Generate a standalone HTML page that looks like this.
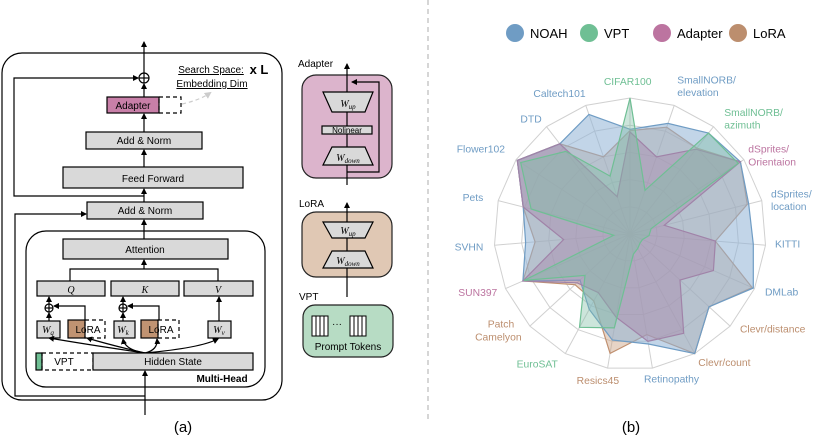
<!DOCTYPE html>
<html><head><meta charset="utf-8"><style>
html,body{margin:0;padding:0;background:#fff;}
svg{display:block;font-family:"Liberation Sans","DejaVu Sans",sans-serif;}
</style></head><body>
<svg id="s" width="822" height="448" viewBox="0 0 822 448" xmlns="http://www.w3.org/2000/svg">
<defs>
<marker id="a" markerWidth="6" markerHeight="6" refX="5" refY="3" orient="auto" markerUnits="userSpaceOnUse"><path d="M0,0 L6,3 L0,6 z" fill="#000"/></marker>
<marker id="g" markerWidth="7" markerHeight="7" refX="5" refY="3.5" orient="auto" markerUnits="userSpaceOnUse"><path d="M0,0 L7,3.5 L0,7 z" fill="#ccc"/></marker>
</defs>
<g stroke="#000" stroke-width="1.2" fill="none">
<rect x="2" y="53" width="280" height="347" rx="20" fill="#fff"/>
<line x1="144" y1="73" x2="144" y2="42" marker-end="url(#a)"/>
<circle cx="144" cy="78" r="5" fill="#fff"/>
<line x1="139" y1="78" x2="149" y2="78"/><line x1="144" y1="73" x2="144" y2="83"/>
<polyline points="144,196 14,196 14,78 138,78" marker-end="url(#a)"/>
<line x1="144" y1="97" x2="144" y2="84" marker-end="url(#a)"/>
<rect x="107" y="97" width="52" height="16" fill="#c87fa8"/>
<rect x="159" y="97" width="22" height="16" stroke-dasharray="4,3"/>
<line x1="144" y1="132" x2="144" y2="114" marker-end="url(#a)"/>
<rect x="86" y="132" width="116" height="17" fill="#d9d9d9"/>
<line x1="144" y1="167" x2="144" y2="150" marker-end="url(#a)"/>
<rect x="63" y="167" width="180" height="21" fill="#d9d9d9"/>
<line x1="144" y1="202" x2="144" y2="189" marker-end="url(#a)"/>
<rect x="87" y="202" width="116" height="17" fill="#d9d9d9"/>
<polyline points="145,396 15,396 15,214 86,214" marker-end="url(#a)"/>
<rect x="26" y="231" width="239" height="156" rx="20" fill="#fff"/>
<line x1="144" y1="239" x2="144" y2="220" marker-end="url(#a)"/>
<rect x="63" y="239" width="165" height="20" fill="#d9d9d9"/>
<polyline points="70,281 70,269 218,269 218,281"/>
<line x1="144" y1="269" x2="144" y2="260" marker-end="url(#a)"/>
<rect x="37" y="281" width="68" height="15" fill="#d9d9d9"/>
<rect x="111" y="281" width="68" height="15" fill="#d9d9d9"/>
<rect x="184" y="281" width="69" height="15" fill="#d9d9d9"/>
<circle cx="49" cy="308" r="4" fill="#fff"/><line x1="45" y1="308" x2="53" y2="308"/><line x1="49" y1="304" x2="49" y2="312"/>
<circle cx="123" cy="308" r="4" fill="#fff"/><line x1="119" y1="308" x2="127" y2="308"/><line x1="123" y1="304" x2="123" y2="312"/>
<line x1="49" y1="321" x2="49" y2="313" marker-end="url(#a)"/>
<line x1="49" y1="304" x2="49" y2="297" marker-end="url(#a)"/>
<line x1="123" y1="321" x2="123" y2="313" marker-end="url(#a)"/>
<line x1="123" y1="304" x2="123" y2="297" marker-end="url(#a)"/>
<polyline points="85,320 85,306 54,306" marker-end="url(#a)"/>
<polyline points="159,320 159,306 128,306" marker-end="url(#a)"/>
<line x1="219" y1="321" x2="219" y2="297" marker-end="url(#a)"/>
<rect x="37" y="321" width="23" height="17" fill="#d9d9d9"/>
<rect x="68" y="320" width="17" height="18" fill="#c09372"/>
<rect x="85" y="320" width="20" height="18" stroke-dasharray="4,3"/>
<rect x="114" y="321" width="21" height="17" fill="#d9d9d9"/>
<rect x="141" y="320" width="17" height="18" fill="#c09372"/>
<rect x="158" y="320" width="21" height="18" stroke-dasharray="4,3"/>
<rect x="208" y="321" width="23" height="17" fill="#d9d9d9"/>
<path d="M145,353 Q90,345 49,338" marker-end="url(#a)"/>
<path d="M145,353 Q110,345 87,338" marker-end="url(#a)"/>
<path d="M145,353 Q125,350 123,339" marker-end="url(#a)"/>
<path d="M145,353 Q158,350 157,339" marker-end="url(#a)"/>
<path d="M145,353 Q200,348 218,339" marker-end="url(#a)"/>
<rect x="36" y="353" width="6" height="17" fill="#6fbf94"/>
<rect x="42" y="353" width="51" height="17" stroke-dasharray="4,3"/>
<rect x="93" y="353" width="160" height="17" fill="#d9d9d9"/>
<line x1="145" y1="415" x2="145" y2="371" marker-end="url(#a)"/>
</g>
<path d="M182,104 Q200,100 210,93" stroke="#ccc" stroke-width="1.2" fill="none" stroke-dasharray="4,3" marker-end="url(#g)"/>
<g font-size="10" fill="#000" text-anchor="middle">
<text x="133" y="109">Adapter</text>
<text x="144" y="144">Add &amp; Norm</text>
<text x="153" y="182">Feed Forward</text>
<text x="145" y="214">Add &amp; Norm</text>
<text x="145" y="253">Attention</text>
<text x="71" y="293" font-family="Liberation Serif" font-style="italic">Q</text>
<text x="145" y="293" font-family="Liberation Serif" font-style="italic">K</text>
<text x="218" y="293" font-family="Liberation Serif" font-style="italic">V</text>
<text x="48" y="333" font-family="Liberation Serif" font-style="italic">W<tspan font-size="7" dy="2">q</tspan></text>
<text x="88" y="333">LoRA</text>
<text x="123" y="333" font-family="Liberation Serif" font-style="italic">W<tspan font-size="7" dy="2">k</tspan></text>
<text x="161" y="333">LoRA</text>
<text x="219" y="333" font-family="Liberation Serif" font-style="italic">W<tspan font-size="7" dy="2">v</tspan></text>
<text x="64" y="365">VPT</text>
<text x="173" y="365">Hidden State</text>
<text x="222" y="382" font-size="10" font-weight="bold">Multi-Head</text>
<text x="211" y="73" text-decoration="underline">Search Space:</text>
<text x="212" y="87" text-decoration="underline">Embedding Dim</text>
<text x="259" y="74" font-size="13" font-weight="bold">x L</text>
<text x="183" y="432" font-size="15">(a)</text>
<text x="631" y="432" font-size="15">(b)</text>
</g>
<g stroke="#000" stroke-width="1.2">
<rect x="302" y="75" width="90" height="103" rx="14" fill="#dcb4cc" stroke="#222"/>
<line x1="347" y1="185" x2="347" y2="64" marker-end="url(#a)" fill="none"/>
<polyline points="347,172 379,172 379,82 352,82" fill="none" marker-end="url(#a)"/>
<polygon points="323,92 373,92 365,112 332,112" fill="#d9d9d9"/>
<rect x="322" y="126" width="50" height="8" fill="#d9d9d9"/>
<polygon points="332,147 365,147 373,165 323,165" fill="#d9d9d9"/>
<rect x="302" y="212" width="90" height="65" rx="14" fill="#e0c8b4" stroke="#222"/>
<line x1="347" y1="297" x2="347" y2="203" marker-end="url(#a)" fill="none"/>
<polygon points="323,222 373,222 365,238 332,238" fill="#d9d9d9"/>
<polygon points="332,251 365,251 373,268 323,268" fill="#d9d9d9"/>
<rect x="303" y="305" width="90" height="52" rx="12" fill="#b7dcc4" stroke="#222"/>
<g fill="#fff" stroke-width="1">
<rect x="312" y="316" width="4" height="20"/><rect x="316" y="316" width="4" height="20"/><rect x="320" y="316" width="4" height="20"/><rect x="324" y="316" width="4" height="20"/>
<rect x="350" y="316" width="4" height="20"/><rect x="354" y="316" width="4" height="20"/><rect x="358" y="316" width="4" height="20"/><rect x="362" y="316" width="4" height="20"/>
</g>
</g>
<g font-size="10" fill="#000">
<text x="298" y="67">Adapter</text>
<text x="299" y="207">LoRA</text>
<text x="299" y="300">VPT</text>
<text x="332" y="327">···</text>
<text x="348" y="350" text-anchor="middle">Prompt  Tokens</text>
<text x="348" y="107" text-anchor="middle" font-family="Liberation Serif" font-style="italic">W<tspan font-size="7" dy="2">up</tspan></text>
<text x="347" y="133" text-anchor="middle" font-size="8">Nolinear</text>
<text x="348" y="161" text-anchor="middle" font-family="Liberation Serif" font-style="italic">W<tspan font-size="7" dy="2">down</tspan></text>
<text x="348" y="234" text-anchor="middle" font-family="Liberation Serif" font-style="italic">W<tspan font-size="7" dy="2">up</tspan></text>
<text x="348" y="264" text-anchor="middle" font-family="Liberation Serif" font-style="italic">W<tspan font-size="7" dy="2">down</tspan></text>
</g>
<line x1="428" y1="0" x2="428" y2="420" stroke="#bbb" stroke-width="1.2" stroke-dasharray="5,4"/>
<circle cx="515" cy="33" r="9" fill="#6f9cc4"/><text x="530" y="38" font-size="13">NOAH</text>
<circle cx="589" cy="33" r="9" fill="#6fbf94"/><text x="604" y="38" font-size="13">VPT</text>
<circle cx="662" cy="33" r="9" fill="#bc74a0"/><text x="677" y="38" font-size="13">Adapter</text>
<circle cx="738" cy="33" r="9" fill="#bc8e6e"/><text x="753" y="38" font-size="13">LoRA</text>
<g id="radar"></g>
<g transform="translate(440,60) scale(0.3333)" font-size="31">
<text x="563" y="75" fill="#6fbf94" text-anchor="middle">CIFAR100</text>
<text x="712" y="70" fill="#6f9cc4">SmallNORB/</text><text x="712" y="108" fill="#6f9cc4">elevation</text>
<text x="853" y="168" fill="#6fbf94">SmallNORB/</text><text x="853" y="206" fill="#6fbf94">azimuth</text>
<text x="925" y="278" fill="#bc74a0">dSprites/</text><text x="925" y="316" fill="#bc74a0">Orientaion</text>
<text x="993" y="412" fill="#6f9cc4">dSprites/</text><text x="993" y="450" fill="#6f9cc4">location</text>
<text x="1005" y="562" fill="#6f9cc4">KITTI</text>
<text x="975" y="707" fill="#6f9cc4">DMLab</text>
<text x="900" y="818" fill="#bc8e6e">Clevr/distance</text>
<text x="775" y="918" fill="#bc8e6e">Clevr/count</text>
<text x="612" y="968" fill="#6f9cc4">Retinopathy</text>
<text x="410" y="972" fill="#bc8e6e">Resics45</text>
<text x="230" y="922" fill="#6fbf94">EuroSAT</text>
<text x="183" y="802" fill="#bc8e6e" text-anchor="middle">Patch</text><text x="175" y="842" fill="#bc8e6e" text-anchor="middle">Camelyon</text>
<text x="172" y="708" fill="#bc74a0" text-anchor="end">SUN397</text>
<text x="130" y="572" fill="#6f9cc4" text-anchor="end">SVHN</text>
<text x="130" y="423" fill="#6f9cc4" text-anchor="end">Pets</text>
<text x="195" y="278" fill="#6f9cc4" text-anchor="end">Flower102</text>
<text x="305" y="188" fill="#6f9cc4" text-anchor="end">DTD</text>
<text x="437" y="111" fill="#6f9cc4" text-anchor="end">Caltech101</text>
</g>
</svg>
<script>
(function(){
var ns="http://www.w3.org/2000/svg",g=document.getElementById("radar");
var cx=630,cy=234,R=136,N=19;
function pt(i,f){var t=(-90+i*360/N)*Math.PI/180;return (cx+R*f*Math.cos(t)).toFixed(1)+","+(cy+R*f*Math.sin(t)).toFixed(1);}
function poly(vals,fill,stroke,op,sw){var p=document.createElementNS(ns,"polygon");p.setAttribute("points",vals.map(function(v,i){return pt(i,v);}).join(" "));p.setAttribute("fill",fill);p.setAttribute("fill-opacity",op);p.setAttribute("stroke",stroke);p.setAttribute("stroke-width",sw);g.appendChild(p);}
for(var k=1;k<=5;k++){var a=[];for(var i=0;i<N;i++)a.push(k/5);poly(a,"none","#d0d0d0",0,1);}
for(var i=0;i<N;i++){var l=document.createElementNS(ns,"line"),e=pt(i,1).split(",");l.setAttribute("x1",cx);l.setAttribute("y1",cy);l.setAttribute("x2",e[0]);l.setAttribute("y2",e[1]);l.setAttribute("stroke","#d0d0d0");g.appendChild(l);}
var lora=[0.76,0.83,0.80,0.97,0.89,0.63,0.98,0.79,1.0,0.75,0.89,0.56,0.55,0.86,0.70,0.81,0.99,0.84,0.60];
var adp=[0.75,0.60,0.79,0.97,0.26,0.63,0.67,0.50,0.83,0.80,0.62,0.49,0.53,0.86,0.49,0.81,0.99,0.84,0.29];
var vpt=[1.0,0.34,0.94,0.95,0.16,0.14,0.10,0.10,0.12,0.15,0.70,0.78,0.45,0.85,0.12,0.75,0.96,0.77,0.45];
var noah=[0.77,0.86,0.94,0.97,0.90,0.91,0.99,0.79,1.0,0.82,0.79,0.63,0.50,0.86,0.77,0.81,0.99,0.84,0.93];
poly(lora,"#c9a080","#c09070",0.45,1.2);
poly(noah,"#8fb3d6","#6f9cc4",0.55,1.2);
poly(adp,"#a88aae","#a083a8",0.45,1.2);
poly(vpt,"#7fbfa4","#6fbf94",0.4,1.2);
})();
</script>
</body></html>
